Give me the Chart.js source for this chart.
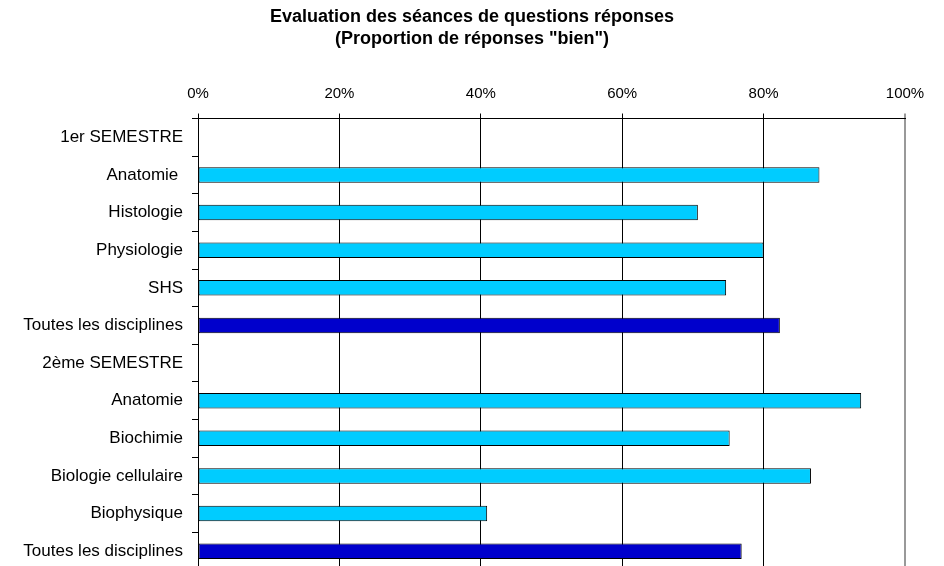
<!DOCTYPE html>
<html>
<head>
<meta charset="utf-8">
<script src="https://cdn.jsdelivr.net/npm/chart.js@4/dist/chart.umd.min.js"></script>
<style>
  html, body { margin: 0; padding: 0; background: #fff; overflow: hidden; }
  canvas { display: block; }
</style>
</head>
<body>
<canvas id="barChart" width="944" height="571"></canvas>
<script>
/* DATA */
const categories = [
    '1er SEMESTRE', 'Anatomie ', 'Histologie', 'Physiologie', 'SHS', 'Toutes les disciplines',
    '2ème SEMESTRE', 'Anatomie', 'Biochimie', 'Biologie cellulaire', 'Biophysique', 'Toutes les disciplines'
];
const proportionBien = [null, 87.9, 70.7, 80.0, 74.7, 82.3, null, 93.8, 75.2, 86.7, 40.9, 76.9];
const isTotal = [false, false, false, false, false, true, false, false, false, false, false, true];
const xTicks = [0, 20, 40, 60, 80, 100];

const titleLines = ['Evaluation des séances de questions réponses', '(Proportion de réponses "bien")'];

const lightBlue = '#00CCFF';
const darkBlue = '#0000CC';
const font = 'Liberation Sans, Arial, sans-serif';

Chart.defaults.font.family = font;
Chart.defaults.color = '#000';

// keep the category axis from reserving half-label room above/below the plot
function noPadding(scale) {
    scale.paddingTop = 0;
    scale.paddingBottom = 0;
}

const ctx = document.getElementById('barChart').getContext('2d');
const barChart = new Chart(ctx, {
    type: 'bar',
    data: {
        labels: categories,
        datasets: [{
            data: proportionBien,
            backgroundColor: isTotal.map(t => t ? darkBlue : lightBlue),
            borderColor: '#000',
            borderWidth: 1,
            borderSkipped: false,
            categoryPercentage: 1,
            barPercentage: 0.41,
        }],
    },
    options: {
        indexAxis: 'y',
        responsive: false,
        animation: false,
        layout: { padding: { left: 0, right: 0, top: 0, bottom: 1 } },
        scales: {
            x: {
                position: 'top',
                min: 0,
                max: 100,
                afterBuildTicks: scale => {
                    scale.ticks = xTicks.map(v => ({ value: v }));
                },
                afterFit: scale => { scale.height = 69.4; },
                ticks: {
                    font: { size: 15 },
                    color: '#000',
                    padding: 11,
                    maxRotation: 0,
                    callback: v => v + '%',
                },
                grid: {
                    color: ctx => ctx.tick && ctx.tick.value === 100 ? '#999' : '#000',
                    lineWidth: ctx => ctx.tick && ctx.tick.value === 100 ? 2 : 1,
                    tickLength: 5,
                },
                border: { color: '#000', width: 1 },
            },
            y: {
                afterFit: scale => {
                    scale.width = 198;
                    noPadding(scale);
                },
                ticks: {
                    font: { size: 17 },
                    color: '#000',
                    padding: 9,
                    autoSkip: false,
                },
                grid: {
                    drawOnChartArea: false,
                    offset: true,
                    color: '#000',
                    tickLength: 6,
                },
                border: { color: '#000', width: 1 },
            },
            // empty right-hand margin so the title centres on the whole canvas
            yRight: {
                type: 'category',
                position: 'right',
                afterFit: scale => {
                    scale.width = 39;
                    noPadding(scale);
                },
                ticks: { display: false },
                grid: { display: false },
                border: { display: false },
            },
        },
        plugins: {
            legend: { display: false },
            tooltip: { enabled: false },
            title: {
                display: true,
                text: titleLines,
                color: '#000',
                font: { size: 18, weight: 'bold', lineHeight: 1.17 },
                padding: { top: 7, bottom: 0 },
            },
        },
    },
});
</script>
</body>
</html>
